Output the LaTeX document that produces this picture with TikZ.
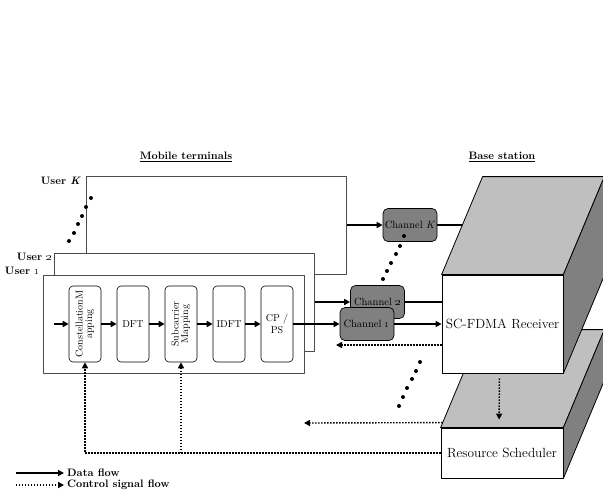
\documentclass[tikz,border=0pt]{standalone}
\usetikzlibrary{arrows.meta,calc}
\pgfdeclarelayer{back}
\pgfsetlayers{back,main}
\begin{document}
\begin{tikzpicture}[x=1pt,y=-1pt,
  line join=round,
  head/.style={font=\bfseries\fontsize{10.8}{12}\selectfont, inner sep=1pt},
  ulab/.style={font=\bfseries\fontsize{10.8}{12}\selectfont, inner sep=1pt},
  userbox/.style={draw=black!70, line width=0.8pt, fill=white, anchor=north west, inner sep=0pt},
  blk/.style={draw, line width=0.6pt, rounded corners=4pt, fill=white, minimum width=32pt,
    minimum height=76pt, inner sep=0pt, align=center, font=\fontsize{10}{11.5}\selectfont},
  chan/.style={draw, line width=0.7pt, fill=black!50, rounded corners=5pt, minimum width=54pt,
    minimum height=33pt, inner sep=0pt, font=\fontsize{10.5}{12}\selectfont},
  front/.style={draw, line width=0.8pt, fill=white, inner sep=0pt, font=\fontsize{13.3}{15}\selectfont},
  topface/.style={draw, line width=0.8pt, fill=black!25},
  sideface/.style={draw, line width=0.8pt, fill=black!50},
  dataline/.style={line width=1.6pt},
  data/.style={line width=1.6pt, -{Triangle[length=6pt,width=6pt]}},
  ctrl/.style={line width=1.4pt, dash pattern=on 1.4pt off 1.6pt, -{Triangle[length=6pt,width=6pt]}},
]
\useasboundingbox (0,0) rectangle (603,491);

% section headings
\node[head] (hmob) at (186,157) {\underline{Mobile terminals}};
\node[head] (hbs) at (502,157) {\underline{Base station}};

% stacked user terminals
\node[userbox, minimum width=260pt, minimum height=98pt] (userK) at (86,176) {};
\node[userbox, minimum width=260pt, minimum height=98pt] (user2) at (54,253) {};
\node[userbox, minimum width=261pt, minimum height=98pt] (user1) at (43,275) {};

\node[ulab, anchor=east] (lK) at (82,181) {User \textit{K}};
\node[ulab, anchor=east] (l2) at (53,257) {User \oldstylenums{2}};
\node[ulab, anchor=east] (l1) at (41,271) {User \oldstylenums{1}};

\foreach \x/\y in {69/241,74/233,78/224,82/216,86/207,91/198}
  \fill (\x,\y) circle (2pt);

% transmitter chain of user 1
\node[blk] (map) at (85,324) {\rotatebox{90}{\begin{tabular}{@{}c@{}}ConstellationM\\[-2pt]apping\end{tabular}}};
\node[blk] (dft) at (133,324) {DFT};
\node[blk] (sub) at (181,324) {\rotatebox{90}{\begin{tabular}{@{}c@{}}Subcarrier\\[-2pt]Mapping\end{tabular}}};
\node[blk] (idft) at (229,324) {IDFT};
\node[blk] (cpps) at (277,324) {CP /\\PS};

\coordinate (in1) at (54,324);
\draw[data] (in1) -- (map.west);
\draw[data] (map.east) -- (dft.west);
\draw[data] (dft.east) -- (sub.west);
\draw[data] (sub.east) -- (idft.west);
\draw[data] (idft.east) -- (cpps.west);

% channels
\node[chan] (chK) at (410,225) {Channel \textit{K}};
\node[chan] (ch2) at (377.5,302) {Channel \oldstylenums{2}};
\node[chan] (ch1) at (367,324) {Channel \oldstylenums{1}};

\draw[data] (userK.east |- chK.west) -- (chK.west);
\draw[data] (user2.east |- ch2.west) -- (ch2.west);
\draw[data] (cpps.east) -- (ch1.west);

\foreach \x/\y in {383/279,387/271,391/263,396/254,400/246,404/236}
  \fill (\x,\y) circle (2pt);

% base station: scheduler behind, receiver in front
\node[front, minimum width=122pt, minimum height=50pt] (sched) at (502,453) {Resource Scheduler};
\filldraw[topface] (sched.north west) -- ++(41,-98) -- ($(sched.north east)+(41,-98)$) -- (sched.north east) -- cycle;
\filldraw[sideface] (sched.north east) -- ++(41,-98) -- ($(sched.south east)+(41,-98)$) -- (sched.south east) -- cycle;

\node[front, minimum width=121pt, minimum height=98pt] (recv) at (502.5,324) {SC-FDMA Receiver};
\filldraw[topface] (recv.north west) -- ++(41,-98) -- ($(recv.north east)+(41,-98)$) -- (recv.north east) -- cycle;
\filldraw[sideface] (recv.north east) -- ++(41,-98) -- ($(recv.south east)+(41,-98)$) -- (recv.south east) -- cycle;

\begin{pgfonlayer}{back}
  \draw[dataline] (chK.east) -- (chK.east -| recv.center);
  \draw[dataline] (ch2.east) -- (ch2.east -| recv.west);
\end{pgfonlayer}
\draw[data] (ch1.east) -- (ch1.east -| recv.west);

% control signalling
\draw[ctrl, shorten <=5pt, shorten >=8pt] ([xshift=-3pt]recv.south) -- ([xshift=-3pt]sched.north);
\coordinate (fbK) at (336,345);
\draw[ctrl] (recv.west |- fbK) -- (fbK);
\coordinate (schtop) at ($(sched.north west)+(2,-5)$);
\coordinate (fbU) at (304,423);
\draw[ctrl] (schtop) -- (fbU);
\draw[ctrl] (sched.west) -| (map.south);
\draw[ctrl] (sched.west -| sub.south) -- (sub.south);

\foreach \x/\y in {420/362,416/371,412/379,407/388,403/397,399/406}
  \fill (\x,\y) circle (2pt);

% legend
\node[ulab, anchor=west, inner sep=3pt] (lgData) at (64,473) {Data flow};
\node[ulab, anchor=west, inner sep=3pt] (lgCtrl) at (64,485) {Control signal flow};
\coordinate (lgD0) at (16,473);
\coordinate (lgC0) at (16,485);
\draw[data] (lgD0) -- (lgData.west);
\draw[ctrl] (lgC0) -- (lgCtrl.west);
\end{tikzpicture}
\end{document}
